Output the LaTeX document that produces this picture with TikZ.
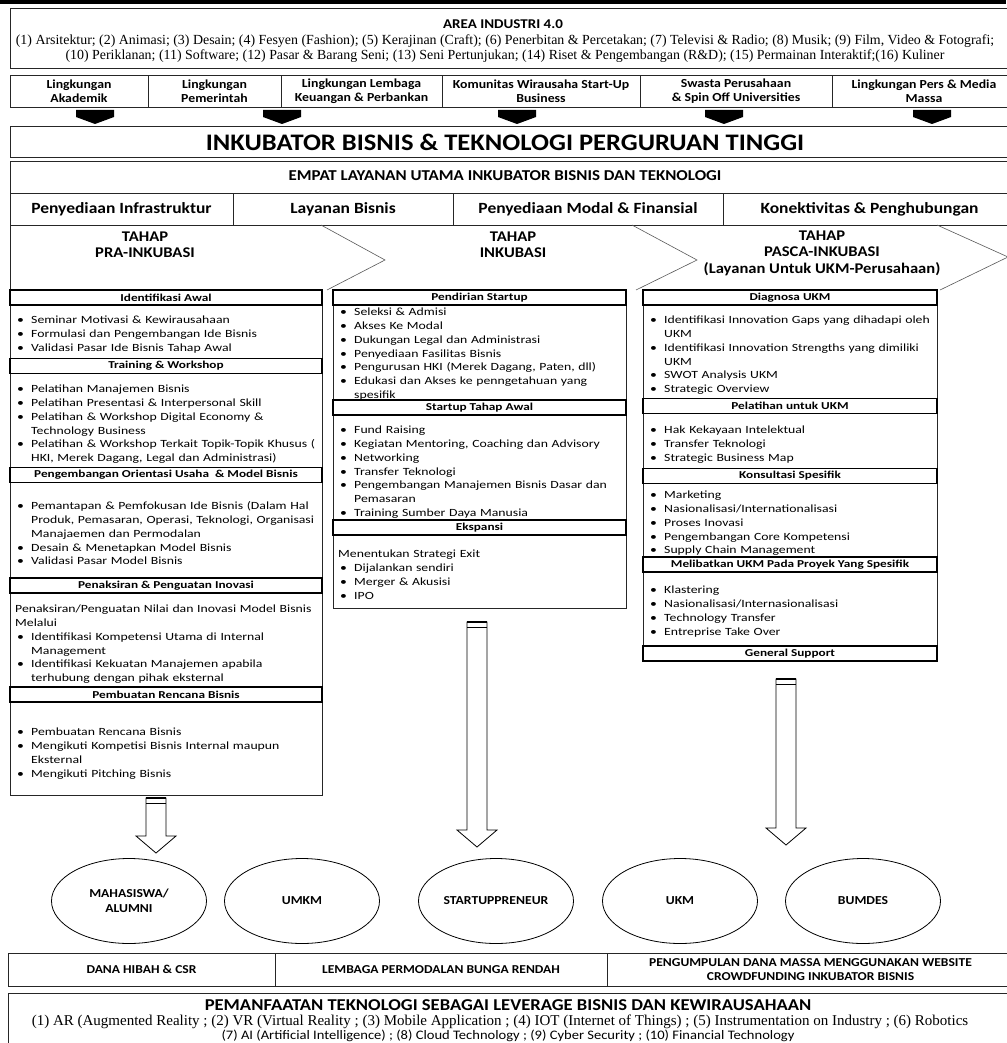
\documentclass[tikz,border=0pt]{standalone}
\usepackage{fontspec}
\setmainfont{Liberation Serif}
\setsansfont{Carlito}[FakeStretch=1.12]
\newfontfamily\bodyfont{Carlito}[FakeStretch=1.25]
\usetikzlibrary{shapes, positioning, calc}
\tikzset{every node/.style={font=\sffamily}}
\setlength{\parskip}{0pt}
\newcommand{\bitem}{\par\hangindent=16pt\hangafter=1\noindent\strut\makebox[16pt][l]{\hspace{2pt}\textbullet}}
\newcommand{\pline}{\par\noindent\strut}

\begin{document}
\begin{tikzpicture}[x=1pt, y=-1pt]
  \tikzstyle{frame} = [rectangle, draw=black!85, line width=0.8pt, inner sep=0pt]
  \tikzstyle{cell} = [frame, align=center]
  \tikzstyle{stake} = [cell, minimum height=32pt, font=\sffamily\bfseries\fontsize{12.3}{14}\selectfont]
  \tikzstyle{svc} = [cell, minimum height=32pt, font=\sffamily\bfseries\fontsize{15.6}{17}\selectfont]
  \tikzstyle{stage} = [align=center, font=\sffamily\bfseries\fontsize{14.8}{16.5}\selectfont]
  \tikzstyle{head} = [rectangle, draw=black, line width=1.1pt, inner sep=0pt, minimum height=15pt, fill=white, font=\bodyfont\bfseries\fontsize{10.6}{13}\selectfont]
  \tikzstyle{body} = [anchor=north west, inner sep=0pt, text width=340pt, align=left, font=\bodyfont\fontsize{11}{13.7}\selectfont]
  \tikzstyle{actor} = [ellipse, draw=black, line width=0.8pt, minimum width=155pt, minimum height=85pt, inner sep=0pt, align=center, font=\sffamily\bfseries\fontsize{12.2}{15}\selectfont]
  \tikzstyle{fund} = [cell, minimum height=33pt, font=\sffamily\bfseries\fontsize{12.1}{14}\selectfont]
  \tikzstyle{hollow} = [draw=black, line width=0.8pt, fill=white]
  \useasboundingbox (0,0) rectangle (1006,1043);
  \fill[white] (0,0) rectangle (1006,1043);
  \draw[line width=4pt] (0,2) -- (1006,2);
  % area industri
  \node (area) [frame, minimum width=1004pt, minimum height=60pt] at (512,38) {};
  \node (areatitle) [font=\sffamily\bfseries\fontsize{13.4}{16}\selectfont] at (503,24) {AREA INDUSTRI 4.0};
  \node (arealist) [align=center, inner sep=0pt, font=\rmfamily\fontsize{13.9}{15}\selectfont] at (505,48.5) {(1) Arsitektur; (2) Animasi; (3) Desain; (4) Fesyen (Fashion); (5) Kerajinan (Craft); (6) Penerbitan \& Percetakan; (7) Televisi \& Radio; (8) Musik; (9) Film, Video \& Fotografi;\\ (10) Periklanan; (11) Software; (12) Pasar \& Barang Seni; (13) Seni Pertunjukan; (14) Riset \& Pengembangan (R\&D); (15) Permainan Interaktif;(16) Kuliner};
  % lingkungan
  \node (akademik) [stake, minimum width=138pt] at (79,91) {Lingkungan\\Akademik};
  \node (pemerintah) [stake, minimum width=133pt] at (214.5,91) {Lingkungan\\Pemerintah};
  \node (lembaga) [stake, minimum width=161pt] at (361.5,91) {Lingkungan Lembaga\\Keuangan \& Perbankan};
  \node (komunitas) [stake, minimum width=198pt] at (541,91) {Komunitas Wirausaha Start-Up\\Business};
  \node (swasta) [stake, minimum width=192pt] at (736,91) {Swasta Perusahaan\\\& Spin Off Universities};
  \node (media) [stake, minimum width=184pt] at (924,91) {Lingkungan Pers \& Media\\Massa};
  \fill (76,110) -- (114,110) -- (114,117) -- (95,124) -- (76,117) -- cycle;
  \fill (263,110) -- (301,110) -- (301,117) -- (282,124) -- (263,117) -- cycle;
  \fill (498,110) -- (536,110) -- (536,117) -- (517,124) -- (498,117) -- cycle;
  \fill (705,110) -- (743,110) -- (743,117) -- (724,124) -- (705,117) -- cycle;
  \fill (913,110) -- (951,110) -- (951,117) -- (932,124) -- (913,117) -- cycle;
  % inkubator
  \node (inkubator) [frame, minimum width=1004pt, minimum height=31pt] at (512,141.5) {};
  \node (inktitle) [font=\sffamily\bfseries\fontsize{23.7}{26}\selectfont] at (505,142) {INKUBATOR BISNIS \& TEKNOLOGI PERGURUAN TINGGI};
  \node (empat) [frame, minimum width=1004pt, minimum height=32pt] at (512,177) {};
  \node (empattitle) [font=\sffamily\bfseries\fontsize{15.1}{17}\selectfont] at (505,176) {EMPAT LAYANAN UTAMA INKUBATOR BISNIS DAN TEKNOLOGI};
  \node (infra) [svc, minimum width=223pt] at (121.5,209) {Penyediaan Infrastruktur};
  \node (layanan) [svc, minimum width=220pt] at (343,209) {Layanan Bisnis};
  \node (modal) [svc, minimum width=270pt] at (588,209) {Penyediaan Modal \& Finansial};
  \node (konek) [svc, minimum width=293pt] at (869.5,209) {Konektivitas \& Penghubungan};
  % tahap
  \draw[frame] (10,225) -- (10,290);
  \draw[black!65, line width=0.6pt] (321,225) -- (385,260) -- (327,290);
  \draw[black!65, line width=0.6pt] (632,225) -- (697,260) -- (636,290);
  \draw[black!65, line width=0.6pt] (937,225) -- (1008,257) -- (940,290);
  \node (pra) [stage] at (145,245) {TAHAP\\PRA-INKUBASI};
  \node (inku) [stage] at (513,245) {TAHAP\\INKUBASI};
  \node (pasca) [stage] at (822,253) {TAHAP\\PASCA-INKUBASI\\(Layanan Untuk UKM-Perusahaan)};
  % pra-inkubasi
  \node (pracol) [frame, minimum width=312pt, minimum height=505pt] at (166,542.5) {};
  \node (identifikasi) [head, minimum width=312pt] at (166,297.5) {Identifikasi Awal};
  \node (identbody) [body] at (15,310) {\bitem Seminar Motivasi \& Kewirausahaan \bitem Formulasi dan Pengembangan Ide Bisnis \bitem Validasi Pasar Ide Bisnis Tahap Awal\par};
  \node (training) [head, minimum width=312pt] at (166,366) {Training \& Workshop};
  \node (trainbody) [body] at (15,379) {\bitem Pelatihan Manajemen Bisnis \bitem Pelatihan Presentasi \& Interpersonal Skill \bitem Pelatihan \& Workshop Digital Economy \&\newline Technology Business \bitem Pelatihan \& Workshop Terkait Topik-Topik Khusus (\newline HKI, Merek Dagang, Legal dan Administrasi)\par};
  \node (orientasi) [head, minimum width=312pt] at (166,475) {Pengembangan Orientasi Usaha\ \ \& Model Bisnis};
  \node (orientbody) [body] at (15,496) {\bitem Pemantapan \& Pemfokusan Ide Bisnis (Dalam Hal\newline Produk, Pemasaran, Operasi, Teknologi, Organisasi\newline Manajaemen dan Permodalan \bitem Desain \& Menetapkan Model Bisnis \bitem Validasi Pasar Model Bisnis\par};
  \node (penaksiran) [head, minimum width=312pt] at (166,585.5) {Penaksiran \& Penguatan Inovasi};
  \node (taksirbody) [body] at (15,599) {\pline Penaksiran/Penguatan Nilai dan Inovasi Model Bisnis\newline Melalui \bitem Identifikasi Kompetensi Utama di Internal\newline Management \bitem Identifikasi Kekuatan Manajemen apabila\newline terhubung dengan pihak eksternal\par};
  \node (rencana) [head, minimum width=312pt] at (166,694.5) {Pembuatan Rencana Bisnis};
  \node (rencanabody) [body] at (15,722) {\bitem Pembuatan Rencana Bisnis \bitem Mengikuti Kompetisi Bisnis Internal maupun\newline Eksternal \bitem Mengikuti Pitching Bisnis\par};
  % inkubasi
  \node (inkcol) [frame, minimum width=293pt, minimum height=318pt] at (479.5,449) {};
  \node (pendirian) [head, minimum width=293pt] at (479.5,297.5) {Pendirian Startup};
  \node (pendbody) [body] at (338,302) {\bitem Seleksi \& Admisi \bitem Akses Ke Modal \bitem Dukungan Legal dan Administrasi \bitem Penyediaan Fasilitas Bisnis \bitem Pengurusan HKI (Merek Dagang, Paten, dll) \bitem Edukasi dan Akses ke penngetahuan yang\newline spesifik\par};
  \node (awal) [head, minimum width=293pt] at (479.5,407.5) {Startup Tahap Awal};
  \node (awalbody) [body] at (338,420) {\bitem Fund Raising \bitem Kegiatan Mentoring, Coaching dan Advisory \bitem Networking \bitem Transfer Teknologi \bitem Pengembangan Manajemen Bisnis Dasar dan\newline Pemasaran \bitem Training Sumber Daya Manusia\par};
  \node (ekspansi) [head, minimum width=293pt] at (479.5,527.5) {Ekspansi};
  \node (eksbody) [body] at (338,544) {\pline Menentukan Strategi Exit \bitem Dijalankan sendiri \bitem Merger \& Akusisi \bitem IPO\par};
  % pasca-inkubasi
  \node (pascacol) [frame, minimum width=294pt, minimum height=371pt] at (790,475.5) {};
  \node (diagnosa) [head, minimum width=294pt] at (790,297.5) {Diagnosa UKM};
  \node (diagbody) [body] at (648,310) {\bitem Identifikasi Innovation Gaps yang dihadapi oleh\newline UKM \bitem Identifikasi Innovation Strengths yang dimiliki\newline UKM \bitem SWOT Analysis UKM \bitem Strategic Overview\par};
  \node (pelatihan) [head, minimum width=294pt] at (790,406) {Pelatihan untuk UKM};
  \node (latihbody) [body] at (648,420) {\bitem Hak Kekayaan Intelektual \bitem Transfer Teknologi \bitem Strategic Business Map\par};
  \node (konsultasi) [head, minimum width=294pt] at (790,476) {Konsultasi Spesifik};
  \node (konsbody) [body] at (648,485) {\bitem Marketing \bitem Nasionalisasi/Internationalisasi \bitem Proses Inovasi \bitem Pengembangan Core Kompetensi \bitem Supply Chain Management\par};
  \node (proyek) [head, minimum width=294pt] at (790,564.5) {Melibatkan UKM Pada Proyek Yang Spesifik};
  \node (proyekbody) [body] at (648,580) {\bitem Klastering \bitem Nasionalisasi/Internasionalisasi \bitem Technology Transfer \bitem Entreprise Take Over\par};
  \node (support) [head, minimum width=294pt] at (790,653.5) {General Support};
  % panah ke sasaran
  \draw[hollow] (146,798) -- (166,798) -- (166,836) -- (176,836) -- (156,853) -- (136,836) -- (146,836) -- cycle;
  \draw[line width=1.6pt] (146,798) -- (166,798);
  \draw (146,803) -- (166,803);
  \draw[hollow] (467,622) -- (487,622) -- (487,830) -- (497,830) -- (477,847) -- (457,830) -- (467,830) -- cycle;
  \draw[line width=1.6pt] (467,622) -- (487,622);
  \draw (467,627) -- (487,627);
  \draw[hollow] (776,679) -- (796,679) -- (796,828) -- (806,828) -- (786,845) -- (766,828) -- (776,828) -- cycle;
  \draw[line width=1.6pt] (776,679) -- (796,679);
  \draw (776,684) -- (796,684);
  % sasaran
  \node (mahasiswa) [actor] at (129,901) {MAHASISWA/\\ALUMNI};
  \node (umkm) [actor] at (302,901) {UMKM};
  \node (startup) [actor] at (496,901) {STARTUPPRENEUR};
  \node (ukm) [actor] at (680,901) {UKM};
  \node (bumdes) [actor] at (863,901) {BUMDES};
  % pendanaan
  \node (hibah) [fund, minimum width=267pt] at (141.5,969.5) {DANA HIBAH \& CSR};
  \node (bunga) [fund, minimum width=332pt] at (441,969.5) {LEMBAGA PERMODALAN BUNGA RENDAH};
  \node (crowd) [fund, minimum width=407pt] at (810.5,969.5) {PENGUMPULAN DANA MASSA MENGGUNAKAN WEBSITE\\CROWDFUNDING INKUBATOR BISNIS};
  % teknologi
  \node (tekno) [frame, minimum width=1006pt, minimum height=60pt] at (511,1023) {};
  \node (teknotitle) [inner sep=0pt, font=\sffamily\bfseries\fontsize{16.6}{18}\selectfont] at (508,1005) {PEMANFAATAN TEKNOLOGI SEBAGAI LEVERAGE BISNIS DAN KEWIRAUSAHAAN};
  \node (teknolist) [inner sep=0pt, font=\rmfamily\fontsize{15}{15}\selectfont] at (500,1021.5) {(1) AR (Augmented Reality ; (2) VR (Virtual Reality ; (3) Mobile Application ; (4) IOT (Internet of Things) ; (5) Instrumentation on Industry ; (6) Robotics};
  \node (teknolist2) [inner sep=0pt, font=\sffamily\fontsize{13}{15}\selectfont] at (508,1035.5) {(7) AI (Artificial Intelligence) ; (8) Cloud Technology ; (9) Cyber Security ; (10) Financial Technology};
\end{tikzpicture}
\end{document}
